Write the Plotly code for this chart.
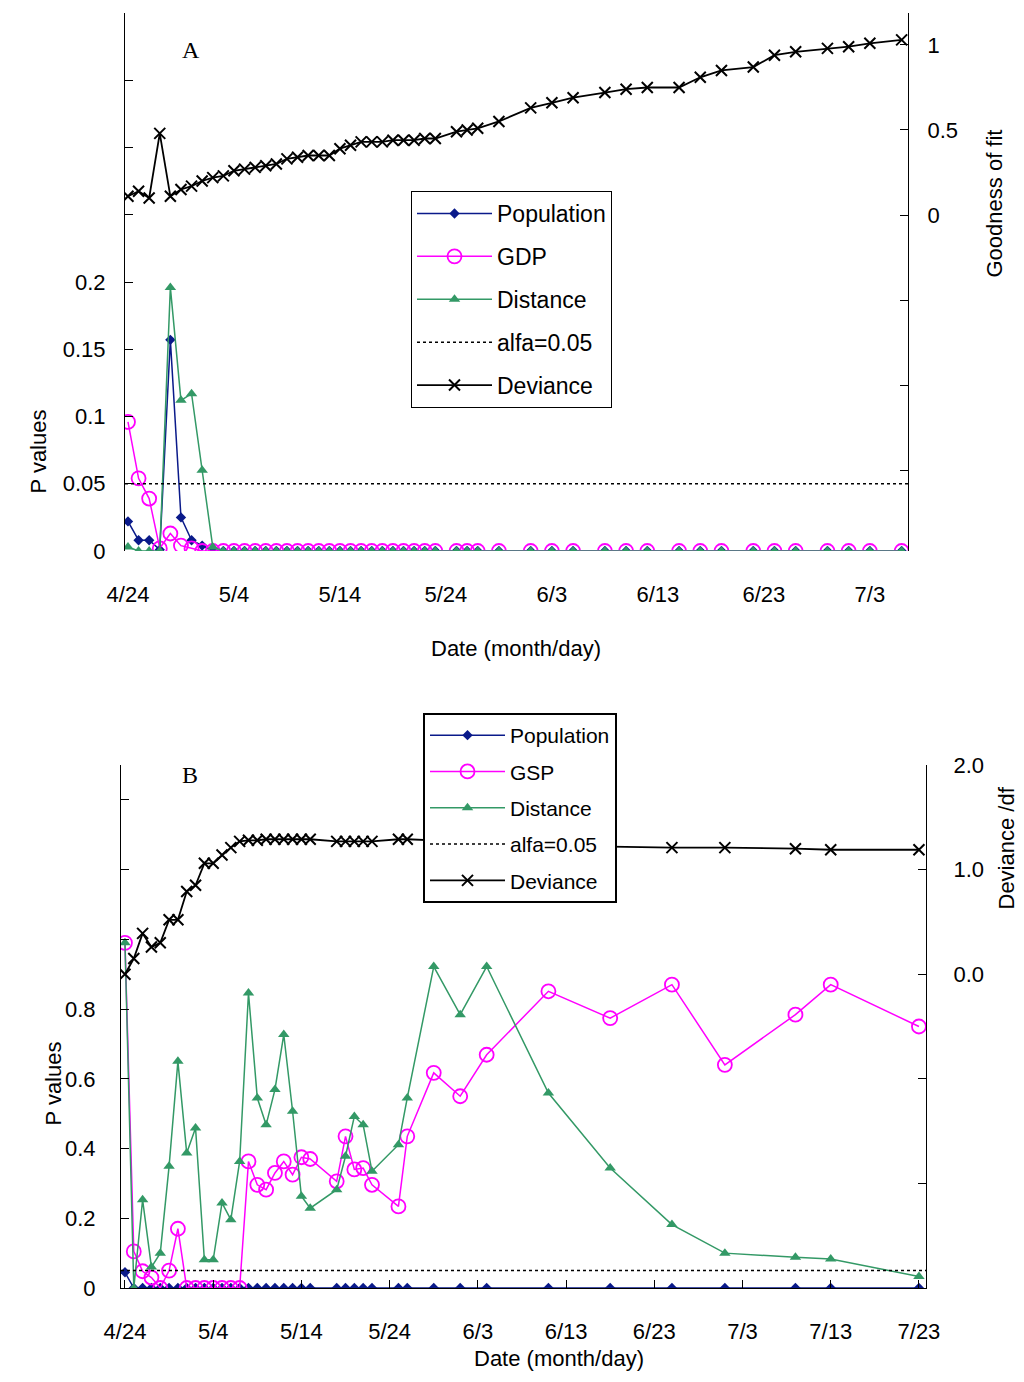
import plotly.graph_objects as go

# ---------- Panel A data (day offsets from 4/24) ----------
a_days = list(range(0, 30)) + [31, 32, 33, 35, 38, 40, 42, 45, 47, 49, 52, 54, 56, 59, 61, 63, 66, 68, 70, 73]
a_pop = [0.022, 0.008, 0.008, 0.001, 0.157, 0.025, 0.008, 0.004] + [0.0] * 42
a_gdp = [0.096, 0.054, 0.039, 0.002, 0.013, 0.004, 0.002, 0.0] + [0.0] * 42
a_dist = [0.003, 0.0, 0.0, 0.0, 0.196, 0.112, 0.117, 0.060, 0.003] + [0.0] * 41
a_dev = [0.11, 0.14, 0.10, 0.48, 0.11, 0.15, 0.17, 0.20, 0.22, 0.23,
         0.26, 0.27, 0.28, 0.29, 0.30, 0.33, 0.34, 0.35, 0.35, 0.35,
         0.39, 0.41, 0.43, 0.43, 0.43, 0.44, 0.44, 0.44, 0.45, 0.45,
         0.49, 0.50, 0.51, 0.55, 0.63, 0.66, 0.69, 0.72, 0.74, 0.75,
         0.75, 0.81, 0.85, 0.87, 0.94, 0.96, 0.98, 0.99, 1.01, 1.03]
a_ticks = [0, 10, 20, 30, 40, 50, 60, 70]
a_ticklabels = ["4/24", "5/4", "5/14", "5/24", "6/3", "6/13", "6/23", "7/3"]

# ---------- Panel B data ----------
b_days = list(range(0, 22)) + [24, 25, 26, 27, 28] + [31, 32, 35, 38, 41, 48, 55, 62, 68, 76, 80, 90]
b_pop = [0.045] + [0.0] * 38
b_gsp = [0.99, 0.105, 0.048, 0.03, 0.0, 0.05, 0.17, 0.0, 0.0, 0.0, 0.0, 0.0, 0.0, 0.0,
         0.363, 0.296, 0.282, 0.33, 0.363, 0.325, 0.375, 0.37,
         0.306, 0.435, 0.34, 0.344, 0.296,
         0.234, 0.435, 0.617, 0.55, 0.669, 0.851, 0.774, 0.87, 0.64, 0.784, 0.87, 0.75]
b_dist = [0.99, 0.0, 0.253, 0.06, 0.10, 0.349, 0.65, 0.387, 0.459, 0.081, 0.081, 0.244, 0.196, 0.363,
          0.846, 0.545, 0.468, 0.569, 0.727, 0.507, 0.263, 0.229,
          0.282, 0.378, 0.492, 0.468, 0.335,
          0.411, 0.545, 0.922, 0.784, 0.922, 0.559, 0.344, 0.182, 0.10, 0.088, 0.083, 0.033]
b_dev = [0.0, 0.15, 0.39, 0.26, 0.30, 0.52, 0.52, 0.79, 0.85, 1.06, 1.06, 1.14, 1.21, 1.27,
         1.28, 1.28, 1.29, 1.29, 1.29, 1.29, 1.29, 1.29,
         1.27, 1.27, 1.27, 1.27, 1.27,
         1.29, 1.29, 1.28, 1.27, 1.26, 1.24, 1.22, 1.21, 1.21, 1.20, 1.19, 1.19]
b_ticks = [0, 10, 20, 30, 40, 50, 60, 70, 80, 90]
b_ticklabels = ["4/24", "5/4", "5/14", "5/24", "6/3", "6/13", "6/23", "7/3", "7/13", "7/23"]
alfa = 0.05

NAVY, MAG, GREEN = "#0a1a8a", "#ff00ff", "#339966"
FONT = "Liberation Sans"
W, H = 1024, 1382

fig = go.Figure()

def add_series(x, pop, gdp, dist, dev, gname, xa, ya, ya2, leg, xr, p):
    fig.add_trace(go.Scatter(x=x, y=pop, name="Population", mode="lines+markers", xaxis=xa, yaxis=ya,
                             legend=leg, legendgroup=p + "1", line=dict(color=NAVY, width=1.5),
                             marker=dict(symbol="diamond", size=8, color=NAVY)))
    fig.add_trace(go.Scatter(x=x, y=gdp, name=gname, mode="lines+markers", xaxis=xa, yaxis=ya,
                             legend=leg, legendgroup=p + "2", line=dict(color=MAG, width=1.5),
                             marker=dict(symbol="circle-open", size=14, color=MAG, line=dict(width=1.8))))
    fig.add_trace(go.Scatter(x=x, y=dist, name="Distance", mode="lines+markers", xaxis=xa, yaxis=ya,
                             legend=leg, legendgroup=p + "3", line=dict(color=GREEN, width=1.5),
                             marker=dict(symbol="triangle-up", size=10, color=GREEN)))
    fig.add_trace(go.Scatter(x=xr, y=[alfa, alfa], name="alfa=0.05", mode="lines", xaxis=xa, yaxis=ya,
                             legend=leg, legendgroup=p + "4", line=dict(color="black", width=1.5, dash="dot")))
    fig.add_trace(go.Scatter(x=x, y=dev, name="Deviance", mode="lines+markers", xaxis=xa, yaxis=ya2,
                             legend=leg, legendgroup=p + "5", line=dict(color="black", width=1.8),
                             marker=dict(symbol="x-thin-open", size=11, color="black", line=dict(width=2, color="black"))))

a_xr = [-0.28, 73.6]
b_xr = [-0.45, 90.8]
add_series(a_days, a_pop, a_gdp, a_dist, a_dev, "GDP", "x", "y", "y2", "legend", a_xr, "a")
add_series(b_days, b_pop, b_gsp, b_dist, b_dev, "GSP", "x2", "y3", "y4", "legend2", b_xr, "b")

tf = dict(family=FONT, size=22, color="black")
axcommon = dict(showgrid=False, zeroline=False, showline=True, linecolor="black", linewidth=1,
                ticks="inside", ticklen=8, tickcolor="black", tickfont=tf, automargin=False)

def lab(vals, maxv):
    return [("0" if v == 0 else f"{v:g}") if v <= maxv + 1e-9 else "" for v in vals]

a_left = [0, 0.05, 0.1, 0.15, 0.2, 0.25, 0.3, 0.35]
a_right = [-1.5, -1.0, -0.5, 0, 0.5, 1.0]
b_left = [0, 0.2, 0.4, 0.6, 0.8, 1.0, 1.2, 1.4]
b_right = [-3, -2, -1, 0, 1, 2]

def ann(text, x, y, angle=0, size=22, fam=FONT):
    return dict(text=text, x=x / W, y=1 - y / H, xref="paper", yref="paper", showarrow=False,
                textangle=angle, font=dict(family=fam, size=size, color="black"))

fig.update_layout(
    width=W, height=H, margin=dict(l=0, r=0, t=0, b=0),
    paper_bgcolor="white", plot_bgcolor="white", font=dict(family=FONT, color="black"),
    xaxis=dict(axcommon, domain=[117/W, 900/W], range=a_xr, anchor="y",
               tickvals=a_ticks, ticktext=a_ticklabels, ticks="", showline=False, ticklabelstandoff=28),
    yaxis=dict(axcommon, domain=[1-543/H, 1-5/H], range=[0, 0.4], anchor="x",
               tickvals=a_left, ticktext=lab(a_left, 0.2), ticklabelstandoff=14),
    yaxis2=dict(axcommon, domain=[1-543/H, 1-5/H], range=[-1.976, 1.188], anchor="x",
                overlaying="y", side="right", ticklabelstandoff=14,
                tickvals=a_right, ticktext=["", "", "", "0", "0.5", "1"]),
    xaxis2=dict(axcommon, domain=[113/W, 918/W], range=b_xr, anchor="y3",
                tickvals=b_ticks, ticktext=b_ticklabels, ticklabelstandoff=24),
    yaxis3=dict(axcommon, domain=[1-1280/H, 1-757/H], range=[0, 1.5], anchor="x2",
                tickvals=b_left, ticktext=lab(b_left, 0.8), ticklabelstandoff=20),
    yaxis4=dict(axcommon, domain=[1-1280/H, 1-757/H], range=[-3, 2], anchor="x2",
                overlaying="y3", side="right", ticklabelstandoff=22,
                tickvals=b_right, ticktext=["", "", "", "0.0", "1.0", "2.0"]),
    legend=dict(x=403/W, y=1-183/H, xanchor="left", yanchor="top", bgcolor="white",
                bordercolor="black", borderwidth=1, font=dict(family=FONT, size=23, color="black"),
                itemwidth=75, tracegroupgap=10),
    legend2=dict(x=415/W, y=1-705/H, xanchor="left", yanchor="top", bgcolor="white",
                 bordercolor="black", borderwidth=2, font=dict(family=FONT, size=21, color="black"),
                 itemwidth=75, tracegroupgap=6),
    annotations=[
        ann("A", 172, 27, size=24, fam="Liberation Serif"),
        ann("B", 172, 767, size=24, fam="Liberation Serif"),
        ann("Date (month/day)", 508, 640),
        ann("Date (month/day)", 551, 1365),
        ann("P values", 15, 400, angle=-90),
        ann("P values", 30, 1120, angle=-90),
        ann("Goodness of fit", 1000, 120, angle=-90),
        ann("Deviance /df", 1012, 840, angle=-90),
    ],
)

fig.write_html("out.html")
